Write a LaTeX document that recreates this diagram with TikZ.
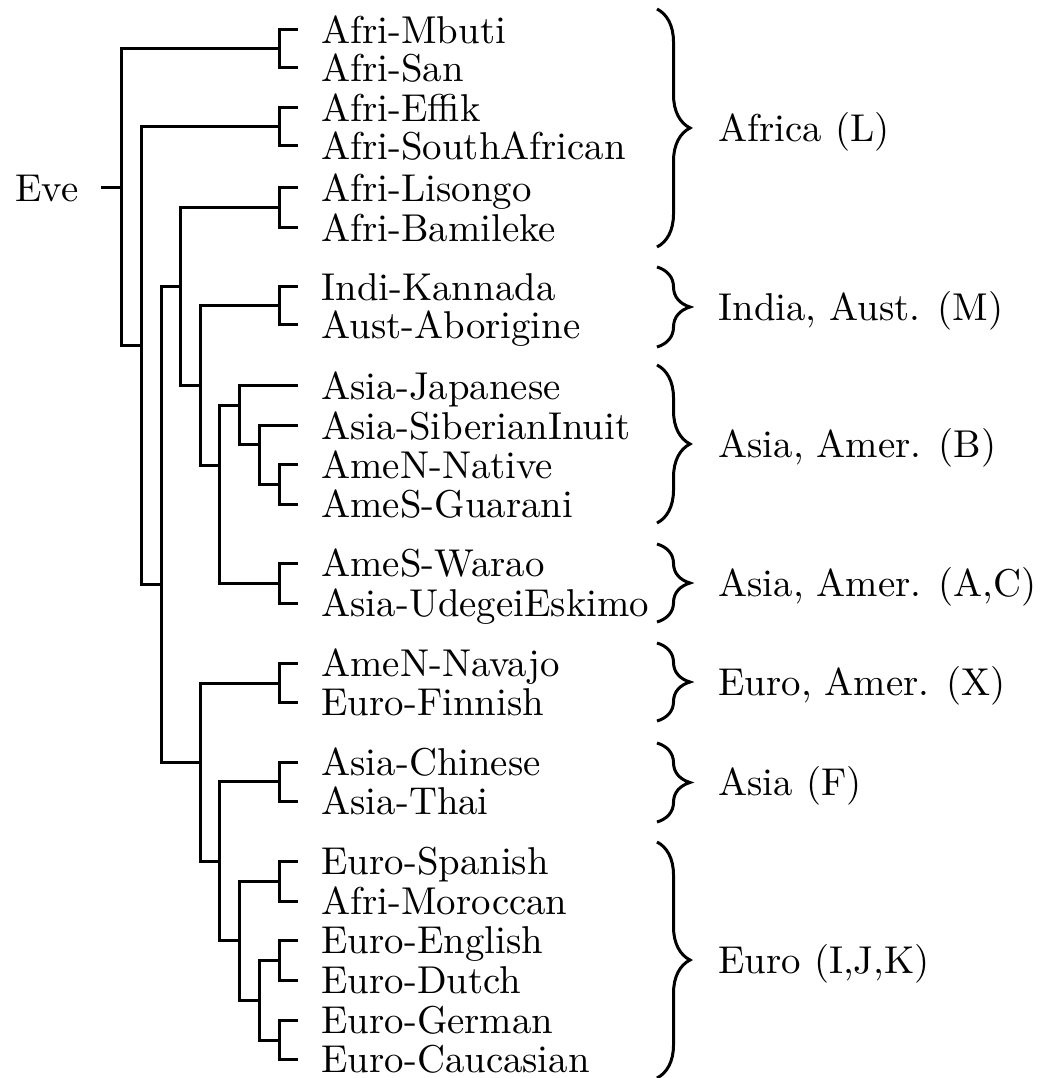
\documentclass[tikz,border=0pt]{standalone}
\usetikzlibrary{decorations.pathreplacing}
\begin{document}
\begin{tikzpicture}[x=0.25pt,y=-0.25pt,line width=0.75pt,
  txt/.style={inner ysep=0pt,text height=6.6pt,text depth=0pt,
    font=\fontsize{9.7}{11.6}\selectfont},
  taxon/.style={txt,anchor=west,inner xsep=5.5pt},
  clade/.style={txt,anchor=west,inner xsep=6.75pt},
  grp/.style={decorate,decoration={brace,amplitude=8.25pt}}]
\useasboundingbox (0,0) rectangle (1050,1078);

% root label
\node[txt,anchor=east,inner xsep=5.25pt] (eve) at (101,188) {Eve};

% taxa
\node[taxon] (mbuti)     at (298,30)   {Afri-Mbuti};
\node[taxon] (san)       at (298,68)   {Afri-San};
\node[taxon] (effik)     at (298,108)  {Afri-Effik};
\node[taxon] (southafr)  at (298,146)  {Afri-SouthAfrican};
\node[taxon] (lisongo)   at (298,188)  {Afri-Lisongo};
\node[taxon] (bamileke)  at (298,228)  {Afri-Bamileke};
\node[taxon] (kannada)   at (298,287)  {Indi-Kannada};
\node[taxon] (aborigine) at (298,325)  {Aust-Aborigine};
\node[taxon] (japanese)  at (298,386)  {Asia-Japanese};
\node[taxon] (siberian)  at (298,426)  {Asia-SiberianInuit};
\node[taxon] (native)    at (298,465)  {AmeN-Native};
\node[taxon] (guarani)   at (298,504)  {AmeS-Guarani};
\node[taxon] (warao)     at (298,563)  {AmeS-Warao};
\node[taxon] (udegei)    at (298,603)  {Asia-UdegeiEskimo};
\node[taxon] (navajo)    at (298,663)  {AmeN-Navajo};
\node[taxon] (finnish)   at (298,702)  {Euro-Finnish};
\node[taxon] (chinese)   at (298,762)  {Asia-Chinese};
\node[taxon] (thai)      at (298,801)  {Asia-Thai};
\node[taxon] (spanish)   at (298,861)  {Euro-Spanish};
\node[taxon] (moroccan)  at (298,901)  {Afri-Moroccan};
\node[taxon] (english)   at (298,940)  {Euro-English};
\node[taxon] (dutch)     at (298,980)  {Euro-Dutch};
\node[taxon] (german)    at (298,1020) {Euro-German};
\node[taxon] (caucasian) at (298,1059) {Euro-Caucasian};

% cherries (pairs of sister taxa)
\coordinate (p1)  at (279,49);
\coordinate (p2)  at (279,127);
\coordinate (p3)  at (279,208);
\coordinate (p4)  at (279,306);
\coordinate (p5)  at (279,485);
\coordinate (p6)  at (279,583);
\coordinate (p7)  at (279,683);
\coordinate (p8)  at (279,781);
\coordinate (p9)  at (279,881);
\coordinate (p10) at (279,960);
\coordinate (p11) at (279,1040);

% internal nodes
\coordinate (root) at (121,188);
\coordinate (n1)  at (141,346);
\coordinate (n2)  at (161,584);
\coordinate (n3)  at (180,287);
\coordinate (n4)  at (200,386);
\coordinate (n5)  at (219,466);
\coordinate (n6)  at (239,406);
\coordinate (n7)  at (259,445);
\coordinate (n8)  at (200,762);
\coordinate (n9)  at (219,861);
\coordinate (n10) at (239,940);
\coordinate (n11) at (259,1000);

% branches
\draw (eve) -- (root);
\draw (root) |- (p1);  \draw (root) |- (n1);
\draw (n1) |- (p2);    \draw (n1) |- (n2);
\draw (n2) |- (n3);    \draw (n2) |- (n8);
\draw (n3) |- (p3);    \draw (n3) |- (n4);
\draw (n4) |- (p4);    \draw (n4) |- (n5);
\draw (n5) |- (n6);    \draw (n5) |- (p6);
\draw (n6) |- (japanese); \draw (n6) |- (n7);
\draw (n7) |- (siberian); \draw (n7) |- (p5);
\draw (n8) |- (p7);    \draw (n8) |- (n9);
\draw (n9) |- (p8);    \draw (n9) |- (n10);
\draw (n10) |- (p9);   \draw (n10) |- (n11);
\draw (n11) |- (p10);  \draw (n11) |- (p11);

\draw (p1) |- (mbuti);    \draw (p1) |- (san);
\draw (p2) |- (effik);    \draw (p2) |- (southafr);
\draw (p3) |- (lisongo);  \draw (p3) |- (bamileke);
\draw (p4) |- (kannada);  \draw (p4) |- (aborigine);
\draw (p5) |- (native);   \draw (p5) |- (guarani);
\draw (p6) |- (warao);    \draw (p6) |- (udegei);
\draw (p7) |- (navajo);   \draw (p7) |- (finnish);
\draw (p8) |- (chinese);  \draw (p8) |- (thai);
\draw (p9) |- (spanish);  \draw (p9) |- (moroccan);
\draw (p10) |- (english); \draw (p10) |- (dutch);
\draw (p11) |- (german);  \draw (p11) |- (caucasian);

% haplogroup braces
\draw[grp] (657,9)   -- (657,247);
\draw[grp] (657,267) -- (657,347);
\draw[grp] (657,365) -- (657,523);
\draw[grp] (657,544) -- (657,622);
\draw[grp] (657,643) -- (657,721);
\draw[grp] (657,743) -- (657,822);
\draw[grp] (657,842) -- (657,1078);

\node[clade] (gL)   at (690,128) {Africa (L)};
\node[clade] (gM)   at (690,307) {India, Aust. (M)};
\node[clade] (gB)   at (690,444) {Asia, Amer. (B)};
\node[clade] (gAC)  at (690,583) {Asia, Amer. (A,C)};
\node[clade] (gX)   at (690,682) {Euro, Amer. (X)};
\node[clade] (gF)   at (690,782) {Asia (F)};
\node[clade] (gIJK) at (690,960) {Euro (I,J,K)};
\end{tikzpicture}
\end{document}
